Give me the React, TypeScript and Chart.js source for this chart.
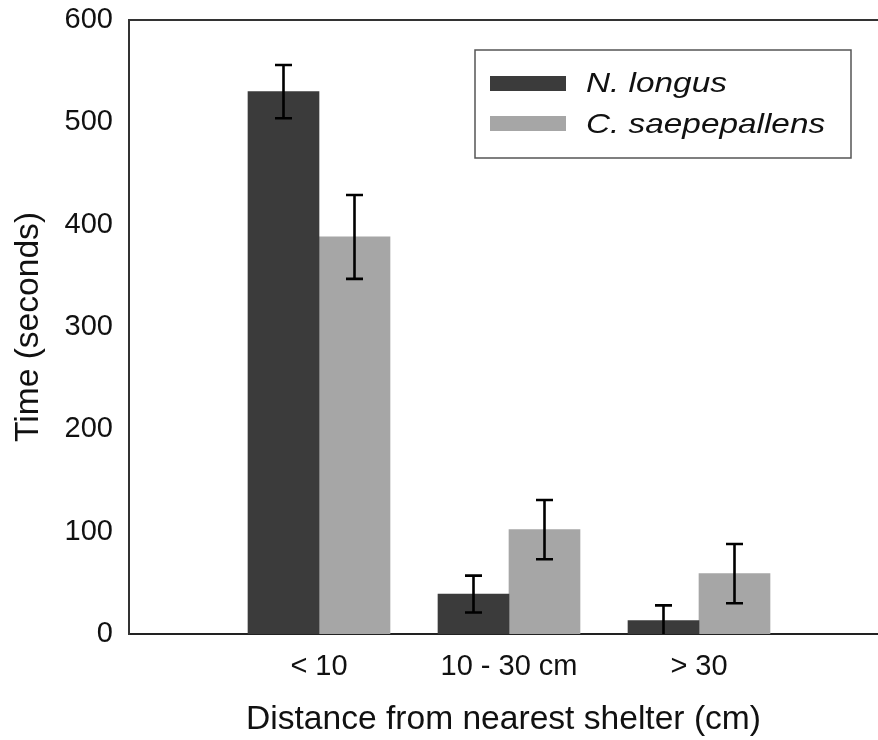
import React, { useEffect, useRef } from "react";
import { Chart, registerables } from "chart.js";

Chart.register(...registerables);

// ---- data ----
const categories = ["< 10", "10 - 30 cm", "> 30"];
const seriesNames = ["N. longus", "C. saepepallens"];
const nLongus = [530, 39, 13];
const nLongusErr = [26, 18, 15];
const cSaepepallens = [388, 102, 59];
const cSaepepallensErr = [41, 29, 29];
const yMin = 0;
const yMax = 600;
const yStep = 100;

const FONT = "'Liberation Sans', Arial, Helvetica, sans-serif";
const DARK = "#3b3b3b";
const LIGHT = "#a6a6a6";

const errorBarPlugin = {
  id: "errorBars",
  afterDatasetsDraw(chart: any) {
    const ctx = chart.ctx;
    const yScale = chart.scales.y;
    chart.data.datasets.forEach((ds: any, i: number) => {
      const meta = chart.getDatasetMeta(i);
      meta.data.forEach((bar: any, j: number) => {
        const v = ds.data[j].y;
        const e = ds.errors[j];
        const top = yScale.getPixelForValue(v + e);
        const low = v - e;
        const bot = yScale.getPixelForValue(Math.max(yMin, low));
        ctx.save();
        ctx.strokeStyle = "#000";
        ctx.lineWidth = 2.6;
        ctx.beginPath();
        ctx.moveTo(bar.x, top);
        ctx.lineTo(bar.x, bot);
        ctx.moveTo(bar.x - 8.5, top);
        ctx.lineTo(bar.x + 8.5, top);
        if (low > yMin) {
          ctx.moveTo(bar.x - 8.5, bot);
          ctx.lineTo(bar.x + 8.5, bot);
        }
        ctx.stroke();
        ctx.restore();
      });
    });
  },
};

const frameLegendPlugin = {
  id: "frameLegend",
  afterDraw(chart: any) {
    const ctx = chart.ctx;
    const ca = chart.chartArea;
    ctx.save();
    // top frame line
    ctx.strokeStyle = "#333";
    ctx.lineWidth = 2;
    ctx.beginPath();
    ctx.moveTo(ca.left - 1, ca.top);
    ctx.lineTo(ca.right, ca.top);
    ctx.stroke();

    // legend box
    const bx = 475, by = 50, bw = 376, bh = 108;
    ctx.fillStyle = "#fff";
    ctx.fillRect(bx, by, bw, bh);
    ctx.strokeStyle = "#555";
    ctx.lineWidth = 1.5;
    ctx.strokeRect(bx, by, bw, bh);

    const rows = [
      { top: 76, base: 91.7 },
      { top: 116, base: 133 },
    ];
    chart.data.datasets.forEach((ds: any, i: number) => {
      const r = rows[i];
      ctx.fillStyle = ds.backgroundColor;
      ctx.fillRect(490, r.top, 76, 15);
      ctx.save();
      ctx.translate(586, r.base);
      ctx.scale(1.17, 1);
      ctx.fillStyle = "#111";
      ctx.font = `italic 28.5px ${FONT}`;
      ctx.textBaseline = "alphabetic";
      ctx.textAlign = "left";
      ctx.fillText(ds.label, 0, 0);
      ctx.restore();
    });
    ctx.restore();
  },
};

export default function App() {
  const canvasRef = useRef<HTMLCanvasElement | null>(null);

  useEffect(() => {
    const canvas = canvasRef.current;
    if (!canvas) return;
    const chart = new Chart(canvas, {
      type: "bar",
      data: {
        datasets: [
          {
            label: seriesNames[0],
            data: nLongus.map((v, i) => ({ x: i + 1, y: v })),
            errors: nLongusErr,
            backgroundColor: DARK,
            borderWidth: 0,
            barThickness: 71,
          } as any,
          {
            label: seriesNames[1],
            data: cSaepepallens.map((v, i) => ({ x: i + 1, y: v })),
            errors: cSaepepallensErr,
            backgroundColor: LIGHT,
            borderWidth: 0,
            barThickness: 71,
          } as any,
        ],
      },
      options: {
        responsive: false,
        animation: false,
        layout: { padding: { top: 20, right: 0, bottom: 0, left: 0 } },
        plugins: {
          legend: { display: false },
          tooltip: { enabled: false },
        },
        scales: {
          x: {
            type: "linear",
            min: 0,
            max: 749 / 190,
            offset: false,
            grid: { display: false, drawTicks: false, offset: false },
            border: { display: true, color: "#222", width: 2 },
            ticks: {
              stepSize: 1,
              includeBounds: false,
              autoSkip: false,
              maxRotation: 0,
              minRotation: 0,
              padding: 16,
              color: "#111",
              font: { family: FONT, size: 29 },
              callback: (v: any) => categories[Number(v) - 1] ?? "",
            } as any,
            title: {
              display: true,
              text: "Distance from nearest shelter (cm)",
              color: "#111",
              font: { family: FONT, size: 33.6 },
              padding: { top: 0, bottom: 0 },
            },
            afterFit: (s: any) => {
              s.height = 106;
              s.paddingLeft = 0;
              s.paddingRight = 0;
            },
          },
          y: {
            type: "linear",
            min: yMin,
            max: yMax,
            grid: { display: false, drawTicks: false },
            border: { display: true, color: "#333", width: 2 },
            ticks: {
              stepSize: yStep,
              padding: 16,
              color: "#111",
              font: { family: FONT, size: 29 },
            },
            title: {
              display: true,
              text: "Time (seconds)",
              color: "#111",
              font: { family: FONT, size: 33.6 },
              padding: { top: 9, bottom: 0 },
            },
            afterFit: (s: any) => {
              s.width = 129;
              s.paddingTop = 0;
              s.paddingBottom = 0;
            },
          },
        },
      } as any,
      plugins: [errorBarPlugin, frameLegendPlugin],
    });
    return () => chart.destroy();
  }, []);

  return (
    <div style={{ position: "absolute", left: 0, top: 0, width: 878, height: 740, background: "#fff" }}>
      <canvas ref={canvasRef} width={878} height={740} style={{ display: "block" }} />
    </div>
  );
}
